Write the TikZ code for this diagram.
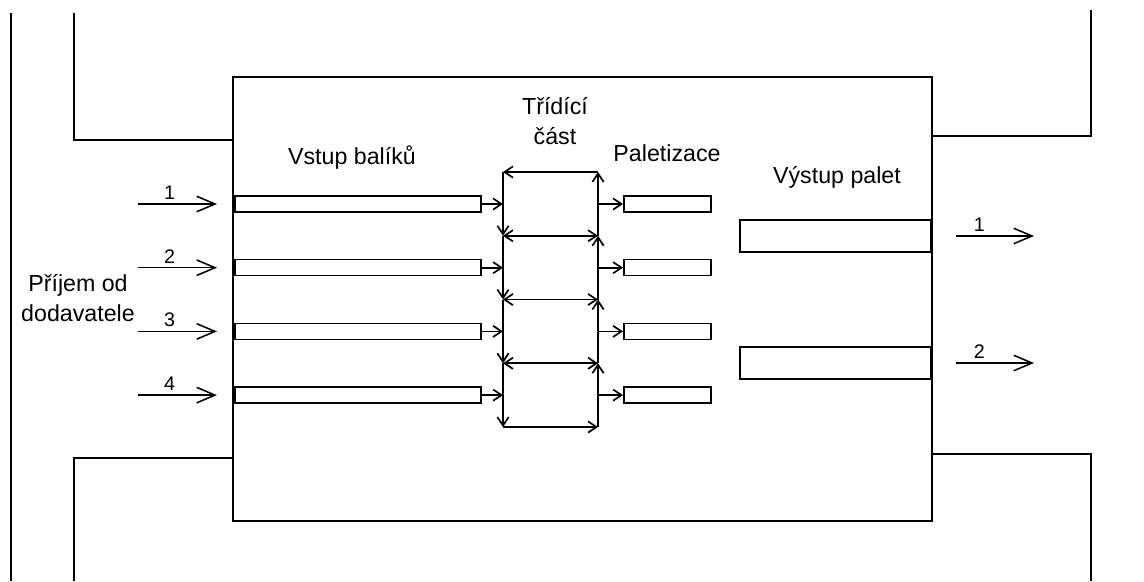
\documentclass[tikz,border=0pt]{standalone}
\usepackage{fontspec}
\setmainfont{Liberation Sans}
\usetikzlibrary{arrows.meta}
\def\px{0.025cm}
\tikzset{wall/.style={line width=1.4pt}}
\tikzset{basic/.style={draw,rectangle,line width=1.1pt,inner sep=0pt}}
\tikzset{conveyor/.style={basic,minimum width=246*\px,minimum height=16*\px}}
\tikzset{pallet/.style={basic,minimum width=87*\px,minimum height=16*\px}}
\tikzset{exitbar/.style={basic,minimum width=191*\px,minimum height=32*\px}}
\tikzset{flow/.style={line width=1.1pt,-{Straight Barb[length=13pt,width=11pt]}}}
\tikzset{link/.style={line width=1.2pt,-{Straight Barb[length=6pt,width=8pt]}}}
\tikzset{twoway/.style={line width=1.2pt,{Straight Barb[length=6pt,width=8pt]}-{Straight Barb[length=6pt,width=8pt]}}}
\tikzset{caption/.style={font=\fontsize{16.5}{21}\selectfont,align=center}}
\tikzset{number/.style={font=\fontsize{14}{16}\selectfont,inner sep=2.5pt}}

\begin{document}
\begin{tikzpicture}[x=\px,y=-\px]
    \useasboundingbox (0,0) rectangle (1144,581);
    % hall and walls
    \node[basic,wall,minimum width=699*\px,minimum height=444*\px] (hall) at (582.5,299) {};
    \draw[wall] (11,13) -- (11,581);
    \draw[wall] (74,13) -- (74,140) -- (233,140);
    \draw[wall] (74,581) -- (74,458) -- (233,458);
    \draw[wall] (932,136) -- (1091,136) -- (1091,10);
    \draw[wall] (932,454) -- (1091,454) -- (1091,581);
    % sorting frame
    \foreach \k in {0,...,4}{%
          \pgfmathsetmacro\y{172+63.75*\k}
          \coordinate (L\k) at (503,\y);
          \coordinate (R\k) at (598,\y);
        }
    \draw[link] (R0) -- (L0);
    \draw[link] (L4) -- (R4);
    \foreach \k [count=\j from 0] in {1,...,4}{%
          \draw[link] (L\j) -- (L\k);
          \draw[link] (R\k) -- (R\j);
        }
    \foreach \k in {1,2,3}{%
          \draw[twoway] (L\k) -- (R\k);
        }
    % input lines and palletizing
    \foreach \i in {1,...,4}{%
          \pgfmathsetmacro\y{204+63.7*(\i-1)}
          \node[conveyor,anchor=west] (in\i) at (234,\y) {};
          \node[pallet,anchor=west] (pal\i) at (623,\y) {};
          \coordinate (src\i) at (138,\y);
          \coordinate (dst\i) at (217,\y);
          \draw[flow] (src\i) -- node[number,above,pos=0.4] {\i} (dst\i);
          \draw[link] (in\i.east) -- (in\i.east -| L0);
          \draw[link] (in\i.east -| R0) -- (pal\i.west);
        }
    % pallet output
    \foreach \y [count=\i] in {236,363}{%
          \node[exitbar,anchor=east] (out\i) at (932,\y) {};
          \coordinate (exit\i) at (956,\y);
          \coordinate (away\i) at (1034,\y);
          \draw[flow] (exit\i) -- node[number,above,pos=0.3] {\i} (away\i);
        }
    % Labels
    \node[caption] (srclabel) at (78,298) {Příjem od\\dodavatele};
    \node[caption] (inlabel) at (352,158) {Vstup balíků};
    \node[caption] (sortlabel) at (555,121) {Třídící\\část};
    \node[caption] (pallabel) at (667,153) {Paletizace};
    \node[caption] (outlabel) at (837,177) {Výstup palet};
\end{tikzpicture}
\end{document}
